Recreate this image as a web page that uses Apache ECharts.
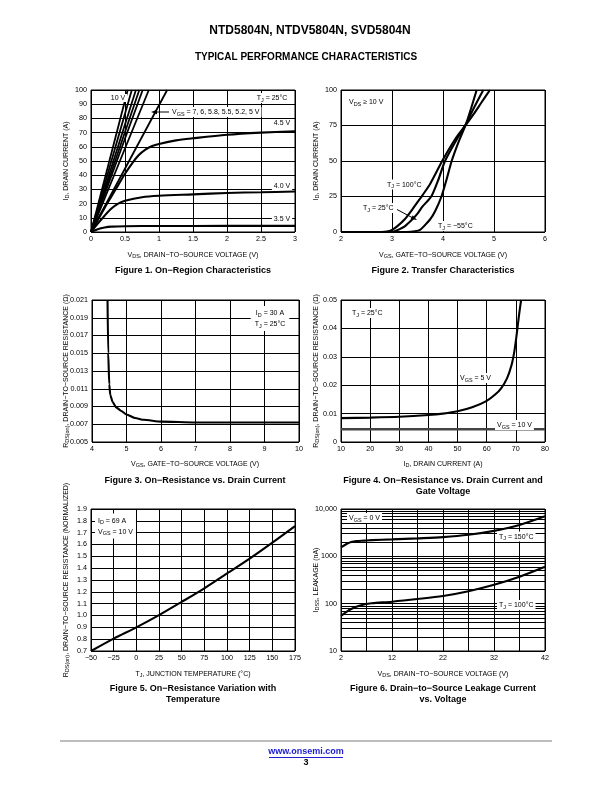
<!DOCTYPE html>
<html><head><meta charset="utf-8">
<script src="https://cdn.jsdelivr.net/npm/echarts@6/dist/echarts.min.js"></script>
<style>html,body{margin:0;padding:0;background:#fff}#c{width:612px;height:792px}</style>
</head><body><div id="c"></div>
<script>
// ---------- Figure 1: On-Region Characteristics ----------
const fig1LinearLabels = ['10 V', '7 V', '6 V', '5.8 V', '5.5 V', '5.2 V', '5 V'];
const fig1LinearVdsAt100A = [0.54, 0.60, 0.66, 0.71, 0.76, 0.85, 1.12];
const fig1LinearId = [0, 100];
const fig1Vds45 = [0, 0.1, 0.2, 0.3, 0.4, 0.5, 0.6, 0.7, 0.8, 0.9, 1.0, 1.25, 1.5, 2, 2.5, 3];
const fig1Id45 = [0, 8.5, 17, 25, 33, 41, 48, 54, 58, 60.5, 62, 64.5, 66, 68.5, 70, 71];
const fig1Vds40 = [0, 0.1, 0.2, 0.3, 0.4, 0.5, 0.75, 1, 1.5, 2, 2.5, 3];
const fig1Id40 = [0, 6, 11.5, 16.5, 20, 22, 24.5, 25.5, 26.5, 27.5, 28, 28.5];
const fig1Vds35 = [0, 0.1, 0.2, 0.3, 0.5, 1, 2, 3];
const fig1Id35 = [0, 2, 3.2, 3.8, 4.1, 4.2, 4.3, 4.3];

// ---------- Figure 2: Transfer Characteristics ----------
const fig2Vgs100 = [2, 2.8, 2.9, 3.0, 3.1, 3.25, 3.4, 3.5, 3.6, 3.75, 4.0, 4.25, 4.45, 4.6, 4.75, 4.92];
const fig2Id100 = [0, 0, 0.3, 1.5, 4, 9, 16, 21, 26, 34, 51, 66, 75.5, 83, 91, 100];
const fig2Vgs25 = [2, 2.95, 3.05, 3.15, 3.25, 3.4, 3.5, 3.6, 3.77, 3.9, 4.04, 4.25, 4.45, 4.6, 4.79];
const fig2Id25 = [0, 0, 0.5, 2, 4, 9, 13, 18, 25, 36, 50, 64, 76, 87, 100];
const fig2VgsM55 = [2, 3.3, 3.45, 3.55, 3.65, 3.75, 3.85, 3.97, 4.07, 4.17, 4.3, 4.45, 4.55, 4.66];
const fig2IdM55 = [0, 0, 0.5, 1.5, 5, 9, 15, 25, 37, 50, 63, 76, 87, 100];

// ---------- Figure 3: On-Resistance vs Gate Voltage ----------
const fig3Vgs = [4.45, 4.47, 4.5, 4.53, 4.6, 4.7, 4.85, 5, 5.25, 5.5, 6, 7, 8, 9, 10];
const fig3Rds = [0.021, 0.015, 0.0115, 0.0103, 0.0095, 0.0089, 0.0085, 0.0081, 0.0077, 0.0075, 0.0073, 0.0072, 0.0072, 0.0072, 0.0072];

// ---------- Figure 4: On-Resistance vs Drain Current ----------
const fig4Id5 = [10, 20, 30, 40, 45, 50, 55, 60, 63, 65, 67, 68.5, 69.5, 70.3, 71, 71.8];
const fig4Rds5 = [0.0084, 0.0086, 0.0089, 0.0095, 0.0100, 0.0108, 0.0122, 0.0145, 0.0168, 0.019, 0.0225, 0.027, 0.032, 0.038, 0.044, 0.05];
const fig4Id10 = [10, 80];
const fig4Rds10 = [0.0045, 0.0045];

// ---------- Figure 5: Normalized On-Resistance vs Temperature ----------
const fig5Tj = [-50, -25, 0, 25, 50, 75, 100, 125, 150, 175];
const fig5Rn = [0.70, 0.805, 0.90, 1.003, 1.115, 1.23, 1.355, 1.48, 1.615, 1.755];

// ---------- Figure 6: Leakage Current ----------
const fig6Vds = [2, 3, 4, 5, 6.5, 8, 12, 17, 22, 27, 32, 37, 42];
const fig6Idss150 = [1550, 1800, 2000, 2100, 2150, 2200, 2280, 2400, 2550, 2850, 3450, 4600, 7000];
const fig6Idss100 = [55, 66, 77, 86, 96, 102, 110, 125, 145, 183, 250, 370, 600];
const fig6MinorGrid = [20, 30, 40, 50, 60, 70, 80, 90, 200, 300, 400, 500, 600, 700, 800, 900, 2000, 3000, 4000, 5000, 6000, 7000, 8000, 9000];

// ================= rendering =================
const FF = '"Liberation Sans", Arial, Helvetica, sans-serif';
const zip = (xs, ys) => xs.map((x, i) => [x, ys[i]]);

const grids = [
  { left: 91, top: 90, width: 204, height: 142 },
  { left: 341, top: 90, width: 204, height: 142 },
  { left: 92, top: 300, width: 207, height: 142 },
  { left: 341, top: 300, width: 204, height: 142 },
  { left: 91, top: 509, width: 204, height: 142 },
  { left: 341, top: 509, width: 204, height: 142 }
].map(g => Object.assign({ show: true, borderColor: '#000', borderWidth: 1, backgroundColor: 'transparent', containLabel: false }, g));

function axis(gi, min, max, interval, fmt, extra) {
  return Object.assign({
    type: 'value', gridIndex: gi, min, max, interval,
    axisLine: { show: false }, axisTick: { show: false },
    splitLine: { show: true, lineStyle: { color: '#000', width: 1 } },
    axisLabel: { color: '#000', fontSize: 7.2, fontFamily: FF, margin: 4, formatter: fmt, showMinLabel: true, showMaxLabel: true }
  }, extra || {});
}
const minus = v => String(v).replace('-', '\u2212');

const xAxes = [
  axis(0, 0, 3, 0.5),
  axis(1, 2, 6, 1),
  axis(2, 4, 10, 1),
  axis(3, 10, 80, 10),
  axis(4, -50, 175, 25, minus),
  axis(5, 2, 42, 5, v => ((Math.round(v) - 2) % 10 === 0 ? String(Math.round(v)) : ''))
];
const yAxes = [
  axis(0, 0, 100, 10),
  axis(1, 0, 100, 25),
  axis(2, 0.005, 0.021, 0.002, v => v.toFixed(3)),
  axis(3, 0, 0.05, 0.01, v => (v === 0 ? '0' : v.toFixed(2))),
  axis(4, 0.7, 1.9, 0.1, v => v.toFixed(1)),
  { type: 'log', logBase: 10, gridIndex: 5, min: 10, max: 10000,
    axisLine: { show: false }, axisTick: { show: false },
    splitLine: { show: true, lineStyle: { color: '#000', width: 1 } },
    axisLabel: { color: '#000', fontSize: 7.2, fontFamily: FF, margin: 4, formatter: v => (v >= 10000 ? '10,000' : String(Math.round(v))) } }
];

function line(gi, data, extra) {
  return Object.assign({
    type: 'line', xAxisIndex: gi, yAxisIndex: gi, data, showSymbol: false, symbol: 'none',
    smooth: 0.3, clip: true, silent: true, animation: false,
    lineStyle: { color: '#000', width: 2.1 }, z: 3
  }, extra || {});
}

const series = [];
fig1LinearVdsAt100A.forEach((v, i) => series.push(line(0, [[0, fig1LinearId[0]], [v, fig1LinearId[1]]], { smooth: false, name: fig1LinearLabels[i], lineStyle: { color: '#000', width: 1.8 } })));
series.push(line(0, zip(fig1Vds45, fig1Id45)));
series.push(line(0, zip(fig1Vds40, fig1Id40)));
series.push(line(0, zip(fig1Vds35, fig1Id35)));
series.push(line(1, zip(fig2Vgs100, fig2Id100), { smooth: 0.25 }));
series.push(line(1, zip(fig2Vgs25, fig2Id25), { smooth: 0.25 }));
series.push(line(1, zip(fig2VgsM55, fig2IdM55), { smooth: 0.25 }));
series.push(line(2, zip(fig3Vgs, fig3Rds), { smooth: 0.2, smoothMonotone: 'x' }));
series.push(line(3, zip(fig4Id5, fig4Rds5), { smooth: 0.25 }));
series.push(line(3, zip(fig4Id10, fig4Rds10), { smooth: false, lineStyle: { color: '#444', width: 2.4 } }));
series.push(line(4, zip(fig5Tj, fig5Rn)));
series.push(line(5, zip(fig6Vds, fig6Idss150), {
  markLine: { silent: true, symbol: ['none', 'none'], animation: false, label: { show: false },
    lineStyle: { color: '#000', width: 1, type: 'solid' }, data: fig6MinorGrid.map(v => ({ yAxis: v })) }
}));
series.push(line(5, zip(fig6Vds, fig6Idss100)));

function T(x, y, text, o) {
  o = o || {};
  const fs = o.fs || 7;
  const fw = o.bold ? 'bold' : 'normal';
  return {
    type: 'text', x, y, rotation: o.rot || 0, z: 100, silent: true,
    style: {
      text, fill: o.color || '#000', fontSize: fs, fontFamily: FF, fontWeight: fw,
      align: o.align || 'center', verticalAlign: 'middle',
      backgroundColor: o.bg ? '#fff' : undefined, padding: o.bg ? (o.pad || [1, 2, 0, 2]) : 0,
      lineHeight: o.lh,
      rich: { s: { fontSize: fs * 0.78, fontFamily: FF, fontWeight: fw, padding: [fs * 0.55, 0, 0, 0], fill: o.color || '#000' } }
    }
  };
}
const R90 = Math.PI / 2;
const graphics = [
  T(310, 31, 'NTD5804N, NTDV5804N, SVD5804N', { bold: true, fs: 12 }),
  T(306, 57, 'TYPICAL PERFORMANCE CHARACTERISTICS', { bold: true, fs: 10 }),
  // fig 1
  T(193, 255, 'V{s|DS}, DRAIN\u2212TO\u2212SOURCE VOLTAGE (V)'),
  T(66, 161, 'I{s|D}, DRAIN CURRENT (A)', { rot: R90 }),
  T(193, 271, 'Figure 1. On\u2212Region Characteristics', { bold: true, fs: 9 }),
  T(118, 98, '10 V', { bg: true }),
  T(272, 98, 'T{s|J} = 25°C', { bg: true }),
  T(170, 112, 'V{s|GS} = 7, 6, 5.8, 5.5, 5.2, 5 V', { bg: true, align: 'left' }),
  T(282, 123, '4.5 V', { bg: true }),
  T(282, 186, '4.0 V', { bg: true }),
  T(282, 219, '3.5 V', { bg: true }),
  { type: 'line', z: 100, shape: { x1: 169, y1: 112, x2: 155, y2: 112 }, style: { stroke: '#000', lineWidth: 1 } },
  { type: 'polygon', z: 100, shape: { points: [[151, 112], [157, 109.8], [157, 114.2]] }, style: { fill: '#000' } },
  // fig 2
  T(443, 255, 'V{s|GS}, GATE\u2212TO\u2212SOURCE VOLTAGE (V)'),
  T(316, 161, 'I{s|D}, DRAIN CURRENT (A)', { rot: R90 }),
  T(443, 271, 'Figure 2. Transfer Characteristics', { bold: true, fs: 9 }),
  T(347, 102, 'V{s|DS} \u2265 10 V', { bg: true, align: 'left' }),
  T(385, 184.5, 'T{s|J} = 100°C', { bg: true, align: 'left' }),
  T(361, 208, 'T{s|J} = 25°C', { bg: true, align: 'left' }),
  T(436, 226, 'T{s|J} = \u221255°C', { bg: true, align: 'left' }),
  { type: 'line', z: 100, shape: { x1: 397, y1: 209.5, x2: 412, y2: 217.5 }, style: { stroke: '#000', lineWidth: 1 } },
  { type: 'polygon', z: 100, shape: { points: [[417, 220], [410.7, 219.1], [412.7, 215.3]] }, style: { fill: '#000' } },
  // fig 3
  T(195, 464, 'V{s|GS}, GATE\u2212TO\u2212SOURCE VOLTAGE (V)'),
  T(66, 371, 'R{s|DS(on)}, DRAIN\u2212TO\u2212SOURCE RESISTANCE (\u03A9)', { rot: R90 }),
  T(195, 481, 'Figure 3. On\u2212Resistance vs. Drain Current', { bold: true, fs: 9 }),
  T(270, 318.5, 'I{s|D} = 30 A\nT{s|J} = 25°C', { bg: true, lh: 11, pad: [2, 4, 1, 4] }),
  // fig 4
  T(443, 464, 'I{s|D}, DRAIN CURRENT (A)'),
  T(316, 371, 'R{s|DS(on)}, DRAIN\u2212TO\u2212SOURCE RESISTANCE (\u03A9)', { rot: R90 }),
  T(443, 481, 'Figure 4. On\u2212Resistance vs. Drain Current and', { bold: true, fs: 9 }),
  T(443, 492, 'Gate Voltage', { bold: true, fs: 9 }),
  T(350, 313, 'T{s|J} = 25°C', { bg: true, align: 'left' }),
  T(458, 378, 'V{s|GS} = 5 V', { bg: true, align: 'left' }),
  T(495, 425, 'V{s|GS} = 10 V', { bg: true, align: 'left' }),
  // fig 5
  T(193, 674, 'T{s|J}, JUNCTION TEMPERATURE (°C)'),
  T(66, 580, 'R{s|DS(on)}, DRAIN\u2212TO\u2212SOURCE RESISTANCE (NORMALIZED)', { rot: R90 }),
  T(193, 689, 'Figure 5. On\u2212Resistance Variation with', { bold: true, fs: 9 }),
  T(193, 700, 'Temperature', { bold: true, fs: 9 }),
  T(95, 526, 'I{s|D} = 69 A\nV{s|GS} = 10 V', { bg: true, align: 'left', lh: 11, pad: [2, 3, 1, 3] }),
  // fig 6
  T(443, 674, 'V{s|DS}, DRAIN\u2212TO\u2212SOURCE VOLTAGE (V)'),
  T(316, 580, 'I{s|DSS}, LEAKAGE (nA)', { rot: R90 }),
  T(443, 689, 'Figure 6. Drain\u2212to\u2212Source Leakage Current', { bold: true, fs: 9 }),
  T(443, 700, 'vs. Voltage', { bold: true, fs: 9 }),
  T(347, 518, 'V{s|GS} = 0 V', { bg: true, align: 'left' }),
  T(497, 536.5, 'T{s|J} = 150°C', { bg: true, align: 'left' }),
  T(497, 605, 'T{s|J} = 100°C', { bg: true, align: 'left' }),
  // footer
  { type: 'line', z: 100, shape: { x1: 60, y1: 741, x2: 552, y2: 741 }, style: { stroke: '#bdbdbd', lineWidth: 2 } },
  T(306, 752, 'www.onsemi.com', { bold: true, fs: 9, color: '#2020d0' }),
  { type: 'line', z: 100, shape: { x1: 269, y1: 757.5, x2: 343, y2: 757.5 }, style: { stroke: '#2020d0', lineWidth: 1 } },
  T(306, 763, '3', { bold: true, fs: 9 })
];

const chart = echarts.init(document.getElementById('c'), null, { renderer: 'canvas', width: 612, height: 792 });
chart.setOption({
  animation: false,
  backgroundColor: '#fff',
  grid: grids,
  xAxis: xAxes,
  yAxis: yAxes,
  series,
  graphic: graphics
});
</script>
</body></html>
